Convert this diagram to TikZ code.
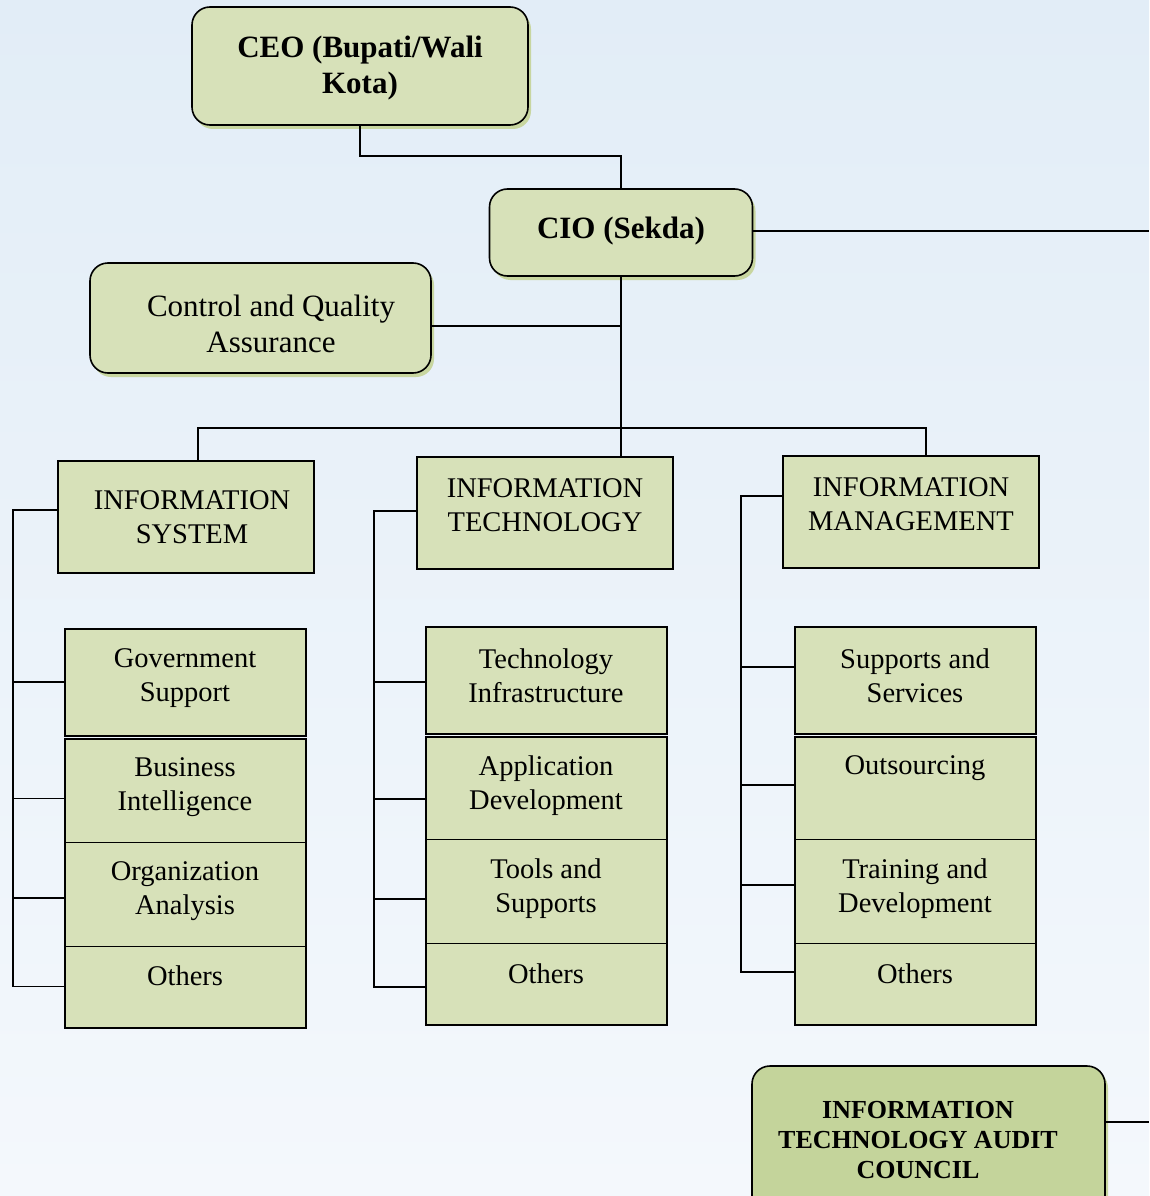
\documentclass[tikz,border=0pt]{standalone}
\usepackage{fontspec}
\setmainfont{Liberation Serif}
\usetikzlibrary{shadows}
\definecolor{boxg}{RGB}{215,225,185}
\definecolor{auditg}{RGB}{196,212,155}
\definecolor{shadg}{RGB}{200,214,160}
\definecolor{bgtop}{RGB}{226,237,247}
\definecolor{bgbot}{RGB}{244,248,252}
\begin{document}
\begin{tikzpicture}[x=1pt,y=-1pt,
  rbox/.style={draw, line width=1.6pt, rounded corners=18pt, fill=boxg,
     drop shadow={shadow xshift=3pt, shadow yshift=-4pt, fill=shadg, opacity=1}},
  hbox/.style={draw, line width=1.8pt, fill=boxg, inner sep=0pt},
  sbox/.style={draw, line width=1pt, fill=boxg, inner sep=0pt},
  conn/.style={line width=1.8pt},
  big/.style={font=\fontsize{31}{36}\selectfont, align=center, inner sep=0pt},
  mid/.style={font=\fontsize{28.5}{34}\selectfont, align=center, inner sep=0pt},
  aud/.style={font=\fontsize{26}{30}\selectfont\bfseries, align=center, inner sep=0pt}]
\useasboundingbox (0,0) rectangle (1149,1196);
\clip (0,0) rectangle (1149,1196);
\fill[top color=bgtop, bottom color=bgbot] (0,0) rectangle (1149,1196);

% top boxes
\node[rbox, minimum width=336pt, minimum height=118pt] (ceo) at (360,66) {};
\node[rbox, minimum width=263pt, minimum height=87pt] (cio) at (621,232.5) {};
\node[rbox, minimum width=341pt, minimum height=110pt] (cqa) at (260.5,318) {};
\node[big, font=\fontsize{31}{36}\selectfont\bfseries] (tceo) at (360,68) {CEO (Bupati/Wali\\Kota)};
\node[big, font=\fontsize{31}{36}\selectfont\bfseries] (tcio) at (621,231) {CIO (Sekda)};
\node[big] (tcqa) at (271,324) {Control and Quality\\Assurance};

% header boxes
\node[hbox, minimum width=256pt, minimum height=112pt] (is) at (186,517) {};
\node[hbox, minimum width=256pt, minimum height=112pt] (it) at (545,513) {};
\node[hbox, minimum width=256pt, minimum height=112pt] (im) at (911,512) {};
\node[mid] (tis) at (192,517.5) {INFORMATION\\SYSTEM};
\node[mid] (tit) at (545,505) {INFORMATION\\TECHNOLOGY};
\node[mid] (tim) at (911,504) {INFORMATION\\MANAGEMENT};

% IS column
\node[sbox, minimum width=240pt, minimum height=106pt] (gs) at (185,682) {};
\node[sbox, minimum width=240pt, minimum height=103pt] (bi) at (185,790.5) {};
\node[sbox, minimum width=240pt, minimum height=104pt] (oa) at (185,894) {};
\node[sbox, minimum width=240pt, minimum height=81pt] (ot1) at (185,986.5) {};
\draw[line width=2pt] (gs.north west) rectangle (gs.south east);
\draw[line width=2pt] (bi.north west) rectangle (ot1.south east);
\node[mid] (tgs) at (185,678) {Government\\Support};
\node[mid] (tbi) at (185,787.5) {Business\\Intelligence};
\node[mid] (toa) at (185,891) {Organization\\Analysis};
\node[mid] (tot1) at (185,976) {Others};

% IT column
\node[sbox, minimum width=240pt, minimum height=106pt] (ti) at (546,680) {};
\node[sbox, minimum width=240pt, minimum height=102pt] (ad) at (546,788) {};
\node[sbox, minimum width=240pt, minimum height=104pt] (ts) at (546,891) {};
\node[sbox, minimum width=240pt, minimum height=81pt] (ot2) at (546,983.5) {};
\draw[line width=2pt] (ti.north west) rectangle (ti.south east);
\draw[line width=2pt] (ad.north west) rectangle (ot2.south east);
\node[mid] (tti) at (546,676) {Technology\\Infrastructure};
\node[mid] (tad) at (546,786) {Application\\Development};
\node[mid] (tts) at (546,889) {Tools and\\Supports};
\node[mid] (tot2) at (546,974) {Others};

% IM column
\node[sbox, minimum width=240pt, minimum height=106pt] (ss) at (915,680) {};
\node[sbox, minimum width=240pt, minimum height=102pt] (os) at (915,788) {};
\node[sbox, minimum width=240pt, minimum height=104pt] (td) at (915,891) {};
\node[sbox, minimum width=240pt, minimum height=81pt] (ot3) at (915,983.5) {};
\draw[line width=2pt] (ss.north west) rectangle (ss.south east);
\draw[line width=2pt] (os.north west) rectangle (ot3.south east);
\node[mid] (tss) at (915,676) {Supports and\\Services};
\node[mid] (tos) at (915,768) {Outsourcing};
\node[mid] (ttd) at (915,889) {Training and\\Development};
\node[mid] (tot3) at (915,974) {Others};

% audit council
\node[rbox, fill=auditg, minimum width=353pt, minimum height=150pt] (aud) at (928.5,1141) {};
\node[aud] (taud) at (918,1140) {INFORMATION\\TECHNOLOGY AUDIT\\COUNCIL};

% connectors
\coordinate (bus) at (621,428);
\coordinate (rE) at (1149,231);
\coordinate (rA) at (1149,1122);
\draw[conn] (ceo.south) -- ++(0,30) -| (cio.north);
\draw[conn] ([yshift=1.5pt]cio.east) -- ([yshift=1.5pt]cio.east -| rE);
\draw[conn] (cio.south) -- (bus);
\draw[conn] ([yshift=-8pt]cqa.east) -| (cio.south);
\draw[conn] ([xshift=12pt]is.north) |- (bus) -| ([xshift=15pt]im.north);
\draw[conn] (bus) -- (bus |- it.north);
\draw[conn] (aud.east |- rA) -- (rA);

% IS bracket
\coordinate (b1) at (13,0);
\draw[conn] ([yshift=7pt]is.west) -| (b1 |- ot1.west) -- (ot1.west);
\draw[conn] (gs.west) -- (gs.west -| b1);
\draw[conn] ([yshift=-8pt]bi.west) -- ([yshift=-8pt]bi.west -| b1);
\draw[conn] ([yshift=-4pt]oa.west) -- ([yshift=-4pt]oa.west -| b1);
% IT bracket
\coordinate (b2) at (374,0);
\draw[conn] ([yshift=2pt]it.west) -| ([yshift=-3.5pt]b2 |- ot2.west) -- ([yshift=-3.5pt]ot2.west);
\draw[conn] ([yshift=-2pt]ti.west) -- ([yshift=-2pt]ti.west -| b2);
\draw[conn] ([yshift=-11pt]ad.west) -- ([yshift=-11pt]ad.west -| b2);
\draw[conn] ([yshift=-8pt]ts.west) -- ([yshift=-8pt]ts.west -| b2);
% IM bracket
\coordinate (b3) at (741,0);
\draw[conn] ([yshift=16pt]im.west) -| ([yshift=11.5pt]b3 |- ot3.west) -- ([yshift=11.5pt]ot3.west);
\draw[conn] ([yshift=13pt]ss.west) -- ([yshift=13pt]ss.west -| b3);
\draw[conn] ([yshift=3pt]os.west) -- ([yshift=3pt]os.west -| b3);
\draw[conn] ([yshift=6pt]td.west) -- ([yshift=6pt]td.west -| b3);
\end{tikzpicture}
\end{document}
